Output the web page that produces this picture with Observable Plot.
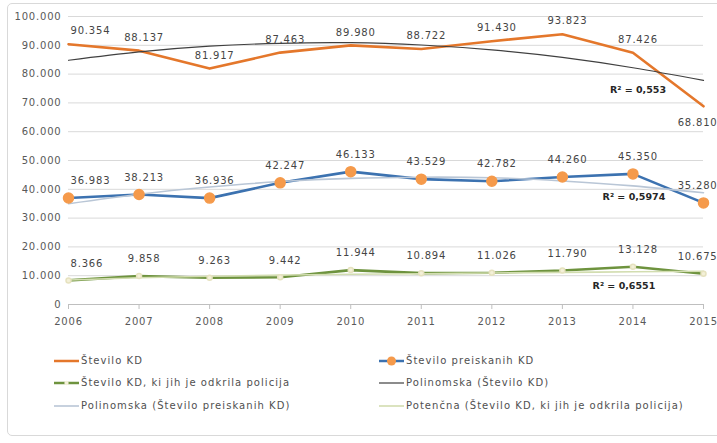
<!DOCTYPE html>
<html><head><meta charset="utf-8">
<script src="https://cdn.jsdelivr.net/npm/d3@7"></script>
<script src="https://cdn.jsdelivr.net/npm/@observablehq/plot@0.6"></script>
<style>
body{margin:0;background:#fff;font-family:"DejaVu Sans",sans-serif;width:717px;height:443px;overflow:hidden;position:relative;}
#frame{position:absolute;left:7px;top:3px;width:716px;height:433px;border:1px solid #d9d9d9;border-radius:5px;box-sizing:border-box;}
#chart{position:absolute;left:0;top:0;}
#chart svg text{letter-spacing:0.8px;}
#chart svg .r2 text{letter-spacing:0px;}
.lg{position:absolute;font-size:10px;letter-spacing:1.05px;color:#505050;display:flex;align-items:center;white-space:nowrap;}
.lg svg{margin-right:1px;}
</style></head><body>
<div id="frame"></div>
<div id="chart"></div>
<div id="legend"></div>
<script>
// ---- data ----
const years = [2006, 2007, 2008, 2009, 2010, 2011, 2012, 2013, 2014, 2015];
const steviloKD = [90354, 88137, 81917, 87463, 89980, 88722, 91430, 93823, 87426, 68810];
const preiskaniKD = [36983, 38213, 36936, 42247, 46133, 43529, 42782, 44260, 45350, 35280];
const policijaKD = [8366, 9858, 9263, 9442, 11944, 10894, 11026, 11790, 13128, 10675];
// trend lines
const trendKD = [84800, 87700, 89700, 90700, 90900, 90100, 88400, 85800, 82200, 77800];
const trendPreiskani = [35000, 38300, 40800, 42700, 43800, 44200, 44000, 42900, 41200, 38800];
const trendPolicija = [8500, 9300, 9800, 10200, 10500, 10700, 10950, 11150, 11350, 11550];
const yTicks = [0, 10000, 20000, 30000, 40000, 50000, 60000, 70000, 80000, 90000, 100000];
const r2Labels = ["R² = 0,553", "R² = 0,5974", "R² = 0,6551"];
const legendLabels = [
  "Število KD", "Število preiskanih KD",
  "Število KD, ki jih je odkrila policija", "Polinomska (Število KD)",
  "Polinomska (Število preiskanih KD)", "Potenčna (Število KD, ki jih je odkrila policija)"
];

const loc = d3.formatLocale({decimal: ",", thousands: ".", grouping: [3], currency: ["", "€"]});
const fmt = loc.format(",d");

const rows = (vals) => years.map((y, i) => ({year: y, value: vals[i]}));
const sKD = rows(steviloKD), sPr = rows(preiskaniKD), sPo = rows(policijaKD);
const tKD = rows(trendKD), tPr = rows(trendPreiskani), tPo = rows(trendPolicija);

const C = {
  orange: "#E4772B", blue: "#3C72B0", marker: "#F59A4B", green: "#6E933E",
  tKD: "#404040", tPr: "#B9C6D6", tPo: "#D2DDB0", text: "#454545"
};

function labels(data, dy, lastDy) {
  const n = data.length;
  const common = {x: "year", y: "value", text: d => fmt(d.value), fill: C.text, fontSize: 10};
  return [
    Plot.text(data.filter((d, i) => i === 0), {...common, dy, dx: 2, textAnchor: "start"}),
    Plot.text(data.filter((d, i) => i > 0 && i < n - 1), {...common, dy, dx: 5}),
    Plot.text(data.filter((d, i) => i === n - 1), {...common, dy: lastDy, dx: 14, textAnchor: "end"})
  ];
}

const r2 = {x: "year", y: "value", text: "t", fontWeight: "bold", fill: "#262626", fontSize: 9.5, className: "r2"};

const chart = Plot.plot({
  width: 717,
  height: 340,
  marginLeft: 68,
  marginRight: 14,
  marginTop: 16,
  marginBottom: 36,
  style: {fontFamily: "'DejaVu Sans', sans-serif", fontSize: "10px", color: "#595959", background: "transparent"},
  x: {domain: [2006, 2015], ticks: years, tickFormat: d => String(d)},
  y: {domain: [0, 100000], ticks: yTicks, tickFormat: fmt},
  marks: [
    Plot.gridY(yTicks, {stroke: "#d9d9d9", strokeOpacity: 1, strokeWidth: 1}),
    Plot.ruleY([0], {stroke: "#bfbfbf"}),
    Plot.axisY({ticks: yTicks, tickFormat: fmt, tickSize: 0, tickPadding: 7, label: null, fill: "#595959"}),
    Plot.axisX({ticks: years, tickFormat: d => String(d), tickSize: 5, tickPadding: 8, label: null, stroke: "#bfbfbf", fill: "#595959"}),
    // series
    Plot.line(sKD, {x: "year", y: "value", stroke: C.orange, strokeWidth: 2.6}),
    Plot.line(sPr, {x: "year", y: "value", stroke: C.blue, strokeWidth: 2.6}),
    Plot.line(sPo, {x: "year", y: "value", stroke: C.green, strokeWidth: 2.6}),
    // trend lines
    Plot.line(tKD, {x: "year", y: "value", stroke: C.tKD, strokeWidth: 1.2, curve: "natural"}),
    Plot.line(tPr, {x: "year", y: "value", stroke: C.tPr, strokeWidth: 1.6, curve: "natural"}),
    Plot.line(tPo, {x: "year", y: "value", stroke: C.tPo, strokeWidth: 1.6, curve: "natural"}),
    // markers
    Plot.dot(sPr, {x: "year", y: "value", r: 5, fill: C.marker, stroke: C.marker}),
    Plot.dot(sPo, {x: "year", y: "value", r: 2.5, fill: "#f3f0d8", stroke: "#e6e2bf"}),
    // data labels
    ...labels(sKD, -13, 16),
    ...labels(sPr, -17, -17),
    ...labels(sPo, -17, -17),
    // R² annotations
    Plot.text([{year: 2014, value: 74600, t: r2Labels[0]}], {...r2, dx: 5}),
    Plot.text([{year: 2014, value: 37200, t: r2Labels[1]}], {...r2, dx: 1}),
    Plot.text([{year: 2014, value: 6600, t: r2Labels[2]}], {...r2, dx: -9})
  ]
});
document.getElementById("chart").appendChild(chart);

// ---- legend (HTML below the svg) ----
const swatch = {
  0: `<line x1="0" y1="5" x2="25" y2="5" stroke="${C.orange}" stroke-width="2.5"/>`,
  1: `<line x1="0" y1="5" x2="25" y2="5" stroke="${C.blue}" stroke-width="2.5"/><circle cx="12.5" cy="5" r="4.5" fill="${C.marker}"/>`,
  2: `<line x1="0" y1="5" x2="25" y2="5" stroke="${C.green}" stroke-width="2.5"/><circle cx="12.5" cy="5" r="2.2" fill="#f3f0d8"/>`,
  3: `<line x1="0" y1="5" x2="25" y2="5" stroke="${C.tKD}" stroke-width="1.2"/>`,
  4: `<line x1="0" y1="5" x2="25" y2="5" stroke="${C.tPr}" stroke-width="1.6"/>`,
  5: `<line x1="0" y1="5" x2="25" y2="5" stroke="${C.tPo}" stroke-width="1.6"/>`
};
const lg = document.getElementById("legend");
const rowY = [362, 384, 407];
legendLabels.forEach((t, i) => {
  const col = i % 2, row = Math.floor(i / 2);
  const el = document.createElement("div");
  el.className = "lg";
  el.style.left = (col === 0 ? 54 : 379) + "px";
  el.style.top = (rowY[row] - 7) + "px";
  el.innerHTML = `<svg width="26" height="10">${swatch[i]}</svg><span>${t}</span>`;
  lg.appendChild(el);
});
</script>
</body></html>
